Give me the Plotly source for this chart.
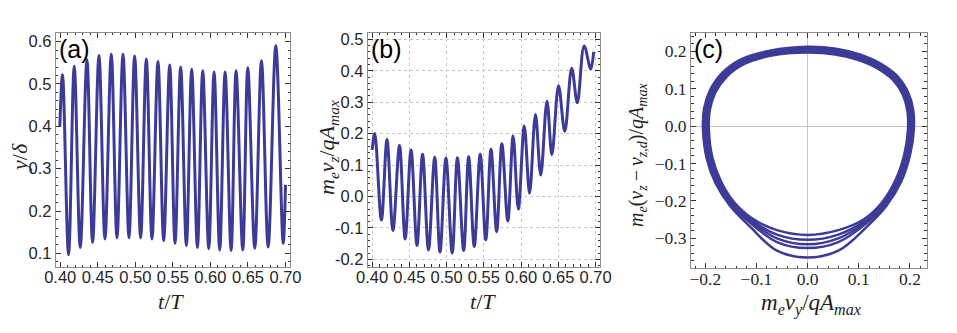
import plotly.graph_objects as go

# ---------------- data ----------------
# Panel (a): y/delta vs t/T (extrema of the oscillation)
t_a = [0.3995, 0.4031, 0.4111, 0.4187, 0.4267, 0.4356, 0.4431, 0.4516, 0.4596, 0.4680,
       0.4756, 0.4836, 0.4916, 0.4991, 0.5071, 0.5147, 0.5222, 0.5302, 0.5378, 0.5458,
       0.5529, 0.5604, 0.5680, 0.5751, 0.5827, 0.5898, 0.5978, 0.6049, 0.6124, 0.6196,
       0.6276, 0.6342, 0.6431, 0.6498, 0.6591, 0.6680, 0.6769, 0.6871, 0.6969, 0.7000]
y_a = [0.400, 0.522, 0.097, 0.542, 0.114, 0.557, 0.126, 0.567, 0.134, 0.570,
       0.137, 0.570, 0.137, 0.566, 0.137, 0.559, 0.134, 0.553, 0.130, 0.545,
       0.124, 0.540, 0.119, 0.535, 0.114, 0.531, 0.111, 0.528, 0.108, 0.528,
       0.107, 0.531, 0.108, 0.538, 0.112, 0.555, 0.115, 0.591, 0.124, 0.262]

# Panel (b): m_e v_z / q A_max vs t/T
t_b = [0.4000, 0.4035, 0.4124, 0.4199, 0.4279, 0.4367, 0.4443, 0.4522, 0.4602, 0.4677,
       0.4756, 0.4840, 0.4911, 0.4991, 0.5075, 0.5145, 0.5229, 0.5296, 0.5371, 0.5451,
       0.5526, 0.5596, 0.5672, 0.5742, 0.5822, 0.5893, 0.5963, 0.6043, 0.6114, 0.6193,
       0.6264, 0.6348, 0.6414, 0.6503, 0.6587, 0.6680, 0.6755, 0.6847, 0.6935, 0.6975]
v_b = [0.148, 0.200, -0.075, 0.181, -0.108, 0.162, -0.135, 0.148, -0.156, 0.134,
       -0.170, 0.125, -0.177, 0.122, -0.180, 0.123, -0.172, 0.126, -0.159, 0.134,
       -0.138, 0.150, -0.112, 0.168, -0.078, 0.192, -0.040, 0.224, 0.010, 0.261,
       0.068, 0.303, 0.133, 0.352, 0.207, 0.408, 0.298, 0.479, 0.406, 0.460]

# Panel (c): phase portrait, five successive loops
# (m_e v_y/qA_max, m_e(v_z - v_zd)/qA_max), clockwise from the top
loops_vy = [
    [0, 0.054, 0.098, 0.1365, 0.1676, 0.1867, 0.1952, 0.1961, 0.1893, 0.1727, 0.146, 0.110, 0.060,
     0, -0.060, -0.108, -0.144, -0.1697, -0.1863, -0.1931, -0.1912, -0.1807, -0.1576, -0.1235, -0.0702],
    [0, 0.0547, 0.0991, 0.1385, 0.1701, 0.1897, 0.1985, 0.1994, 0.1925, 0.1757, 0.148, 0.111, 0.060,
     0, -0.060, -0.109, -0.146, -0.1727, -0.1895, -0.1964, -0.1945, -0.1837, -0.1601, -0.1255, -0.0712],
    [0, 0.055, 0.100, 0.140, 0.172, 0.192, 0.201, 0.202, 0.195, 0.178, 0.150, 0.112, 0.060,
     0, -0.060, -0.110, -0.148, -0.175, -0.192, -0.199, -0.197, -0.186, -0.162, -0.127, -0.072],
    [0, 0.0553, 0.101, 0.1416, 0.1741, 0.1945, 0.2037, 0.2047, 0.1977, 0.1805, 0.152, 0.113, 0.060,
     0, -0.060, -0.111, -0.150, -0.1775, -0.1947, -0.2017, -0.1997, -0.1885, -0.1641, -0.1286, -0.0728],
    [0, 0.0555, 0.1019, 0.1433, 0.1761, 0.1969, 0.2064, 0.2075, 0.2003, 0.1829, 0.154, 0.115, 0.060,
     0, -0.060, -0.113, -0.152, -0.1799, -0.1973, -0.2045, -0.2024, -0.1909, -0.1661, -0.1303, -0.0736],
]
loops_vz = [
    [0.196, 0.191, 0.1765, 0.1536, 0.1217, 0.0816, 0.0384, -0.010, -0.0734, -0.1418, -0.203, -0.249, -0.278,
     -0.291, -0.278, -0.247, -0.203, -0.1468, -0.0834, -0.010, 0.0434, 0.0886, 0.1327, 0.1656, 0.1884],
    [0.2005, 0.1955, 0.1807, 0.1572, 0.1247, 0.0835, 0.0393, -0.010, -0.0743, -0.1436, -0.206, -0.254, -0.290,
     -0.304, -0.290, -0.252, -0.206, -0.1486, -0.0843, -0.010, 0.0443, 0.0905, 0.1357, 0.1692, 0.1927],
    [0.204, 0.199, 0.184, 0.160, 0.127, 0.085, 0.040, -0.010, -0.075, -0.145, -0.208, -0.258, -0.300,
     -0.316, -0.300, -0.256, -0.208, -0.150, -0.085, -0.010, 0.045, 0.092, 0.138, 0.172, 0.196],
    [0.2077, 0.2027, 0.1875, 0.163, 0.1295, 0.0866, 0.0407, -0.010, -0.0757, -0.1465, -0.210, -0.262, -0.310,
     -0.326, -0.310, -0.260, -0.210, -0.1515, -0.0857, -0.010, 0.0457, 0.0936, 0.1405, 0.175, 0.1996],
    [0.2115, 0.2065, 0.191, 0.166, 0.1319, 0.0882, 0.0415, -0.010, -0.0765, -0.148, -0.213, -0.270, -0.333,
     -0.351, -0.333, -0.268, -0.213, -0.153, -0.0865, -0.010, 0.0465, 0.0952, 0.1429, 0.178, 0.2011],
]

# tick labels for panel (b) y axis
b_yticks = [-0.2, -0.1, 0.0, 0.1, 0.2, 0.3, 0.4, 0.5]
b_ytext = ["-0.2", "-0.1", "0.0", "0.1", "0.2", "0.3", "0.4", "0.5"]

panel_labels = ["(a)", "(b)", "(c)"]

# ---------------- styling ----------------
W, H = 957, 333
COLOR = "#3c3c98"
SANS = "Liberation Sans, Arial, sans-serif"
SERIF = "Liberation Serif, Times New Roman, serif"
TICKFONT_SANS = dict(family=SANS, size=16.5, color="#262626")
TICKFONT_SERIF = dict(family=SERIF, size=17.5, color="#262626")
TITLEFONT = dict(family=SERIF, size=22, color="#222222")


def px_x(p):
    return p / W


def px_y(p):
    return 1 - p / H


def make_axis(dom, rng, dtick, mdtick, font, anchor, fmt, grid=False, zero=False, standoff=0):
    return dict(
        domain=dom, range=rng, anchor=anchor, automargin=False,
        tick0=0, dtick=dtick, tickformat=fmt,
        ticks="inside", ticklen=5, tickwidth=1, tickcolor="#333333",
        mirror="allticks", showline=True, linecolor="#8c8c8c", linewidth=1,
        minor=dict(dtick=mdtick, ticks="inside", ticklen=2.5, tickwidth=1,
                   tickcolor="#333333", showgrid=False),
        showgrid=grid, gridcolor="#c8c8c8", griddash="dot", gridwidth=1,
        zeroline=zero, zerolinecolor="#c4c4c4", zerolinewidth=1,
        tickfont=font, ticklabelstandoff=standoff,
    )


fig = go.Figure()

fig.add_trace(go.Scatter(x=t_a, y=y_a, mode="lines", xaxis="x", yaxis="y",
                         line=dict(color=COLOR, width=3, shape="spline", smoothing=1.0)))
fig.add_trace(go.Scatter(x=t_b, y=v_b, mode="lines", xaxis="x2", yaxis="y2",
                         line=dict(color=COLOR, width=3, shape="spline", smoothing=1.0)))
for vy, vz in zip(loops_vy, loops_vz):
    fig.add_trace(go.Scatter(x=vy + [vy[0]], y=vz + [vz[0]], mode="lines",
                             xaxis="x3", yaxis="y3",
                             line=dict(color=COLOR, width=2.5, shape="spline", smoothing=1.0)))

# domains (pixel frame positions measured on the reference)
xa = [px_x(55.7), px_x(290)]
ya = [px_y(267), px_y(32.7)]
xb = [px_x(367.7), px_x(600)]
yb = [px_y(266.7), px_y(32.7)]
xc = [px_x(691), px_x(926.7)]
yc = [px_y(268.3), px_y(33.3)]

layout = dict(
    width=W, height=H, margin=dict(l=0, r=0, t=0, b=0, autoexpand=False),
    paper_bgcolor="white", plot_bgcolor="white", showlegend=False,
    xaxis=make_axis(xa, [0.394, 0.706], 0.05, 0.01, TICKFONT_SANS, "y", ".2f", standoff=-5),
    yaxis=make_axis(ya, [0.068, 0.621], 0.1, 0.02, TICKFONT_SANS, "x", ".1f"),
    xaxis2=make_axis(xb, [0.394, 0.706], 0.05, 0.01, TICKFONT_SANS, "y2", ".2f", grid=True, standoff=-5),
    yaxis2=make_axis(yb, [-0.2235, 0.521], 0.1, 0.02, TICKFONT_SANS, "x2", ".1f", grid=True),
    xaxis3=make_axis(xc, [-0.228, 0.2327], 0.1, 0.02, TICKFONT_SERIF, "y3", ".1f", zero=True, standoff=-5),
    yaxis3=make_axis(yc, [-0.380, 0.2476], 0.1, 0.02, TICKFONT_SERIF, "x3", ".1f", zero=True),
)
layout["yaxis2"]["tickmode"] = "array"
layout["yaxis2"]["tickvals"] = b_yticks
layout["yaxis2"]["ticktext"] = b_ytext
fig.update_layout(**layout)

TITLE_C = dict(family=SERIF, size=20, color="#222222")
TITLE_CX = dict(family=SERIF, size=23, color="#222222")

annotations = []
# panel labels
for lab, xp in zip(panel_labels, [57, 369, 692]):
    annotations.append(dict(text=lab, x=px_x(xp), y=px_y(33), xref="paper", yref="paper",
                            xanchor="left", yanchor="top", showarrow=False,
                            font=dict(family=SANS, size=25, color="black")))
# axis titles
annotations += [
    dict(text="<i>t</i>/<i>T</i>", x=px_x(171), y=px_y(301), xref="paper", yref="paper",
         showarrow=False, font=TITLEFONT, xanchor="center", yanchor="middle"),
    dict(text="<i>t</i>/<i>T</i>", x=px_x(483), y=px_y(301), xref="paper", yref="paper",
         showarrow=False, font=TITLEFONT, xanchor="center", yanchor="middle"),
    dict(text="<i>m</i><sub><i>e</i></sub><i>v</i><sub><i>y</i></sub>/<i>qA</i><sub><i>max</i></sub>",
         x=px_x(811), y=px_y(304), xref="paper", yref="paper",
         showarrow=False, font=TITLE_CX, xanchor="center", yanchor="middle"),
    dict(text="<i>y</i>/<i>δ</i>", x=px_x(19), y=px_y(158), xref="paper", yref="paper",
         showarrow=False, font=TITLEFONT, textangle=-90, xanchor="center", yanchor="middle"),
    dict(text="<i>m</i><sub><i>e</i></sub><i>v</i><sub><i>z</i></sub>/<i>qA</i><sub><i>max</i></sub>",
         x=px_x(328), y=px_y(148), xref="paper", yref="paper",
         showarrow=False, font=TITLEFONT, textangle=-90, xanchor="center", yanchor="middle"),
    dict(text="<i>m</i><sub><i>e</i></sub>(<i>v</i><sub><i>z</i></sub>\u2009−\u2009<i>v</i><sub><i>z</i>,<i>d</i></sub>)/<i>qA</i><sub><i>max</i></sub>",
         x=px_x(637), y=px_y(155), xref="paper", yref="paper",
         showarrow=False, font=TITLE_C, textangle=-90, xanchor="center", yanchor="middle"),
]
fig.update_layout(annotations=annotations)

fig.write_html("out.html", config={"displayModeBar": False},
               post_script="document.body.style.margin='0px';")
